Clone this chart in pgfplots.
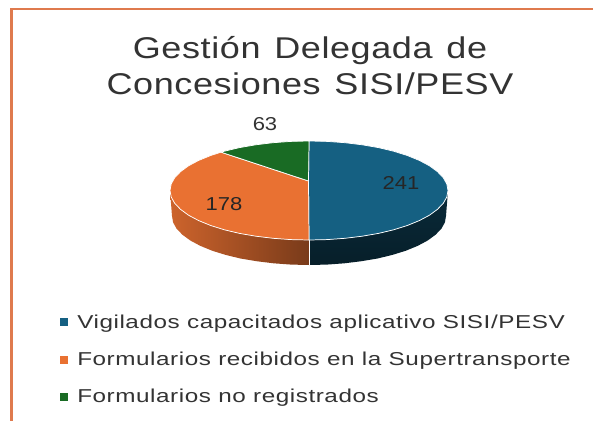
\documentclass[border=0pt]{standalone}
\usepackage{pgfplots}
\pgfplotsset{compat=1.18}
\usepackage{fontspec}
\setmainfont{Liberation Sans}
\newfontfamily\titlef[FakeStretch=1.2,LetterSpace=2,WordSpace=1.3]{Liberation Sans}
\newfontfamily\legf[FakeStretch=1.3,LetterSpace=3]{Liberation Sans}
\newfontfamily\numf[FakeStretch=1.18]{Liberation Sans}
\definecolor{cblue}{HTML}{156082}
\definecolor{corange}{HTML}{E97132}
\definecolor{cgreen}{HTML}{196B24}
\definecolor{ctext}{HTML}{333333}
\definecolor{cframe}{HTML}{DF7A4E}
\begin{document}
\begin{tikzpicture}[x=1pt,y=1pt]
\path[use as bounding box,fill=white] (0,0) rectangle (444.75pt,315.75pt);
\begin{axis}[
  at={(0,0)},anchor=south west,
  scale only axis,width=444.75pt,height=315.75pt,
  xmin=0,xmax=593,ymin=0,ymax=421,y dir=reverse,
  hide axis,clip=false,
  legend style={at={(axis cs:60,312)},anchor=north west,draw=none,fill=none,
    font=\legf\fontsize{14pt}{15pt}\selectfont\color{ctext},
    row sep=12.3pt,inner sep=0pt},
  legend cell align=left,
  legend image code/.code={\fill[#1,draw=none] (0pt,-2.8pt) rectangle (6pt,3.2pt);\path (10.5pt,0pt);},
]
% frame
\addplot[forget plot,cframe,line width=2.2pt,line join=miter] coordinates {(11.5,421)(11.5,9)(593,9)};
% right wall
\addplot[forget plot,draw=none,left color=black!2!cblue!45!black,right color=cblue!32!black,shading angle=0] coordinates {
(309,240)(327.1,239.6)(345,238.3)(362.2,236.2)(378.5,233.4)(393.6,229.8)(407.3,225.5)(419.3,220.6)(429.4,215.25)(437.4,209.4)(443.3,203.3)(446.8,197)(448,190.5)
(446,216)(444.9,222.4)(441.4,228.7)(435.6,234.7)(427.7,240.5)(417.8,245.8)(405.9,250.7)(392.4,254.9)(377.5,258.5)(361.5,261.2)(344.5,263.3)(326.8,264.6)(309,265)} -- cycle;
% left wall
\addplot[forget plot,draw=none,left color=corange!88!black,right color=corange!52!black] coordinates {
(309,240)(290.9,239.6)(273,238.3)(255.8,236.2)(239.5,233.4)(224.4,229.8)(210.7,225.5)(198.7,220.6)(188.6,215.25)(180.6,209.4)(174.7,203.3)(171.2,197)(170,190.5)
(172,216)(173.1,222.4)(176.6,228.7)(182.4,234.7)(190.3,240.5)(200.2,245.8)(212.1,250.7)(225.6,254.9)(240.5,258.5)(256.5,261.2)(273.5,263.3)(291.2,264.6)(309,265)} -- cycle;
\addplot[forget plot,white,line width=0.7pt] coordinates {(309,240)(309,265)};
% top: blue
\addplot[fill=cblue,draw=white,line width=0.55pt,line join=round] coordinates {
(308.5,181)(309,141)(327.1,141.4)(345,142.7)(362.2,144.8)(378.5,147.6)(393.6,151.2)(407.3,155.5)(419.3,160.4)(429.4,165.75)(437.4,171.6)(443.3,177.7)(446.8,184)(448,190.5)
(446.8,197)(443.3,203.3)(437.4,209.4)(429.4,215.25)(419.3,220.6)(407.3,225.5)(393.6,229.8)(378.5,233.4)(362.2,236.2)(345,238.3)(327.1,239.6)(309,240)} -- cycle;
\addlegendentry{Vigilados capacitados aplicativo SISI/PESV}
% top: orange
\addplot[fill=corange,draw=white,line width=0.55pt,line join=round] coordinates {
(308.5,181)(309,240)(290.9,239.6)(273,238.3)(255.8,236.2)(239.5,233.4)(224.4,229.8)(210.7,225.5)(198.7,220.6)(188.6,215.25)(180.6,209.4)(174.7,203.3)(171.2,197)(170,190.5)
(171.2,184)(174.7,177.7)(180.6,171.6)(188.6,165.75)(198.7,160.4)(210.7,155.5)(221,152.2)} -- cycle;
\addlegendentry{Formularios recibidos en la Supertransporte}
% top: green
\addplot[fill=cgreen,draw=white,line width=0.55pt,line join=round] coordinates {
(308.5,181)(221,152.2)(224.4,151.2)(239.5,147.6)(255.8,144.8)(273,142.7)(290.9,141.4)(309,141)} -- cycle;
\addlegendentry{Formularios no registrados}
% title and labels
\node[font=\titlef\fontsize{22.5pt}{27.5pt}\selectfont,text=ctext,align=center,anchor=center] at (axis cs:310,65.5) {Gestión Delegada de\\Concesiones SISI/PESV};
\node[font=\numf\fontsize{14pt}{15pt}\selectfont,text=black!85] at (axis cs:401,183) {241};
\node[font=\numf\fontsize{14pt}{15pt}\selectfont,text=black!85] at (axis cs:224,204) {178};
\node[font=\numf\fontsize{14pt}{15pt}\selectfont,text=ctext] at (axis cs:265,124) {63};
\end{axis}
\end{tikzpicture}
\end{document}
